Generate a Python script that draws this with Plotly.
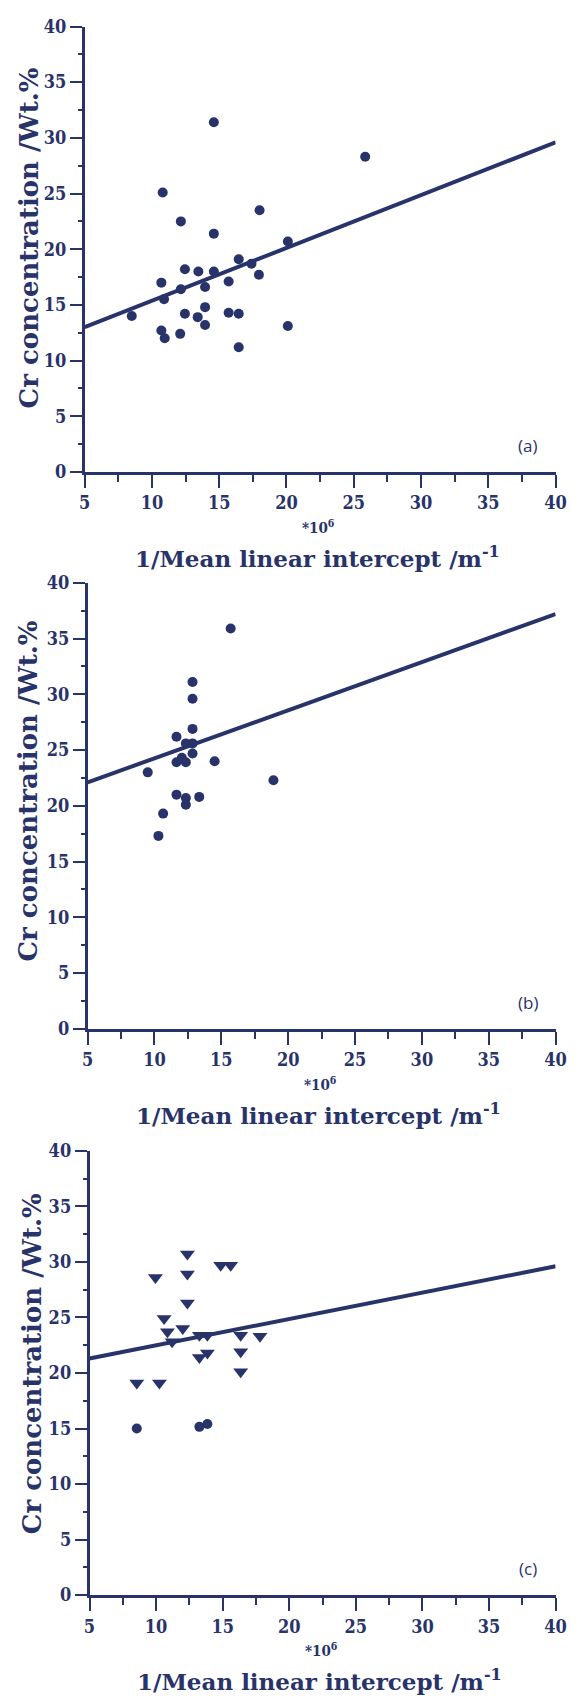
import plotly.graph_objects as go

W, H = 587, 1700
NAVY = "#28336a"

# ---------------- data ----------------
# Panel (a): circles
a_x = [8.5, 10.8, 10.7, 10.9, 10.7, 10.95, 12.15, 12.15, 12.1, 12.45, 12.45,
       13.45, 13.4, 13.95, 13.95, 13.95, 14.6, 14.6, 14.6, 15.7, 15.7,
       16.45, 16.45, 16.45, 17.4, 18.0, 17.95, 20.1, 20.1, 25.85]
a_y = [14.0, 25.1, 17.0, 15.5, 12.7, 12.0, 22.5, 16.4, 12.4, 18.2, 14.2,
       18.0, 13.9, 16.6, 14.8, 13.2, 31.4, 21.4, 18.0, 17.1, 14.3,
       19.1, 14.2, 11.2, 18.7, 23.5, 17.7, 20.7, 13.1, 28.3]
a_fit_x = [5, 40]
a_fit_y = [13.0, 29.6]

# Panel (b): circles
b_x = [9.5, 10.3, 10.65, 11.65, 11.65, 11.65, 12.05, 12.35, 12.35, 12.35, 12.35,
       12.85, 12.85, 12.85, 12.85, 12.85, 13.35, 14.5, 15.7, 18.9]
b_y = [23.0, 17.3, 19.3, 26.2, 23.9, 21.0, 24.3, 25.6, 23.9, 20.7, 20.1,
       31.1, 29.6, 26.9, 25.6, 24.7, 20.8, 24.0, 35.9, 22.3]
b_fit_x = [5, 40]
b_fit_y = [22.1, 37.2]

# Panel (c): down-triangles and circles
c_tri_x = [8.55, 9.95, 10.25, 10.6, 10.85, 11.2, 12.0, 12.35, 12.35, 12.35,
           13.25, 13.25, 13.85, 13.85, 14.85, 15.6, 16.35, 16.35, 16.35, 17.8]
c_tri_y = [19.1, 28.6, 19.1, 24.9, 23.7, 22.8, 24.0, 30.7, 28.9, 26.3,
           23.4, 21.4, 23.4, 21.8, 29.7, 29.7, 23.4, 21.9, 20.1, 23.3]
c_dot_x = [8.55, 13.25, 13.85]
c_dot_y = [15.0, 15.15, 15.4]
c_fit_x = [5, 40]
c_fit_y = [21.3, 29.6]

x_ticks = [5, 10, 15, 20, 25, 30, 35, 40]
y_ticks = [0, 5, 10, 15, 20, 25, 30, 35, 40]
panel_labels = ["(a)", "(b)", "(c)"]
y_title = "Cr concentration /Wt.%"
x_title = "1/Mean linear intercept /m<sup>-1</sup>"
x_scale_note = "*10<sup>6</sup>"

# ---------------- layout geometry (pixels) ----------------
areas = [(81, 566, 15.7, 466.7),
         (84, 566, 579.0, 1030.5),
         (86, 566, 1154.0, 1604.0)]
ytitle_center = [230, 790, 1370]
ytitle_x = [24, 23, 27]

def py(v):
    return 1 - v / H

def px(v):
    return v / W

fig = go.Figure()

SER = "DejaVu Serif"
TSER = "DejaVu Serif Condensed, DejaVu Serif, serif"
TICKF = dict(family=TSER, size=18, color=NAVY)

panels = [
    [("circle", a_x, a_y)],
    [("circle", b_x, b_y)],
    [("triangle-down", c_tri_x, c_tri_y), ("circle", c_dot_x, c_dot_y)],
]
fits = [(a_fit_x, a_fit_y), (b_fit_x, b_fit_y), (c_fit_x, c_fit_y)]

annotations = []
for i in range(3):
    sfx = "" if i == 0 else str(i + 1)
    xr, yr = "x" + sfx, "y" + sfx
    fx, fy = fits[i]
    fig.add_trace(go.Scatter(x=fx, y=fy, mode="lines",
                             line=dict(color=NAVY, width=4),
                             xaxis=xr, yaxis=yr, showlegend=False,
                             cliponaxis=False))
    for sym, xs, ys in panels[i]:
        fig.add_trace(go.Scatter(x=xs, y=ys, mode="markers",
                                 marker=dict(symbol=sym,
                                             size=13 if sym != "circle" else 10,
                                             color=NAVY, line=dict(width=0)),
                                 xaxis=xr, yaxis=yr, showlegend=False,
                                 cliponaxis=False))
    l, r, t, b = areas[i]
    xa = dict(domain=[px(l), px(r)], range=[5, 40], anchor=yr,
              tickvals=x_ticks, ticktext=["<b>%d</b>" % v for v in x_ticks],
              ticks="outside", ticklen=13, tickwidth=2,
              tickcolor=NAVY, showline=True, linecolor=NAVY, linewidth=2.5,
              showgrid=False, zeroline=False, tickfont=TICKF,
              minor=dict(tickvals=[7.5, 12.5, 17.5, 22.5, 27.5, 32.5, 37.5],
                         ticks="outside", ticklen=7, tickwidth=1.5,
                         tickcolor=NAVY, showgrid=False))
    ya = dict(domain=[py(b), py(t)], range=[0, 40], anchor=xr,
              tickvals=y_ticks, ticktext=["<b>%d</b>" % v for v in y_ticks],
              ticks="outside", ticklen=12, tickwidth=1.5,
              tickcolor=NAVY, showline=True, linecolor=NAVY, linewidth=2.5,
              showgrid=False, zeroline=False, tickfont=TICKF,
              minor=dict(dtick=2.5, ticks="outside", ticklen=4, tickwidth=1.5,
                         tickcolor=NAVY, showgrid=False))
    fig.update_layout(**{"xaxis" + sfx: xa, "yaxis" + sfx: ya})

    annotations.append(dict(text=panel_labels[i], x=37.9, y=2.4, xref=xr, yref=yr,
                            showarrow=False,
                            font=dict(family="Open Sans", size=17, color=NAVY)))
    annotations.append(dict(text="<b>" + x_scale_note + "</b>", x=22.4, y=py(b + 56),
                            xref=xr, yref="paper", showarrow=False, yanchor="middle",
                            font=dict(family=TSER, size=15, color=NAVY)))
    annotations.append(dict(text="<b>" + x_title + "</b>", x=22.3, y=py(b + 86),
                            xref=xr, yref="paper", showarrow=False, yanchor="middle",
                            font=dict(family=SER, size=23, color=NAVY)))
    annotations.append(dict(text="<b>" + y_title + "</b>", x=px(ytitle_x[i]),
                            y=py(ytitle_center[i]),
                            xref="paper", yref="paper", showarrow=False,
                            textangle=-90, xanchor="center", yanchor="middle",
                            font=dict(family=SER, size=26, color=NAVY)))

fig.update_layout(width=W, height=H, margin=dict(l=0, r=0, t=0, b=0),
                  paper_bgcolor="white", plot_bgcolor="white",
                  annotations=annotations, showlegend=False)

fig.write_html("out.html")
